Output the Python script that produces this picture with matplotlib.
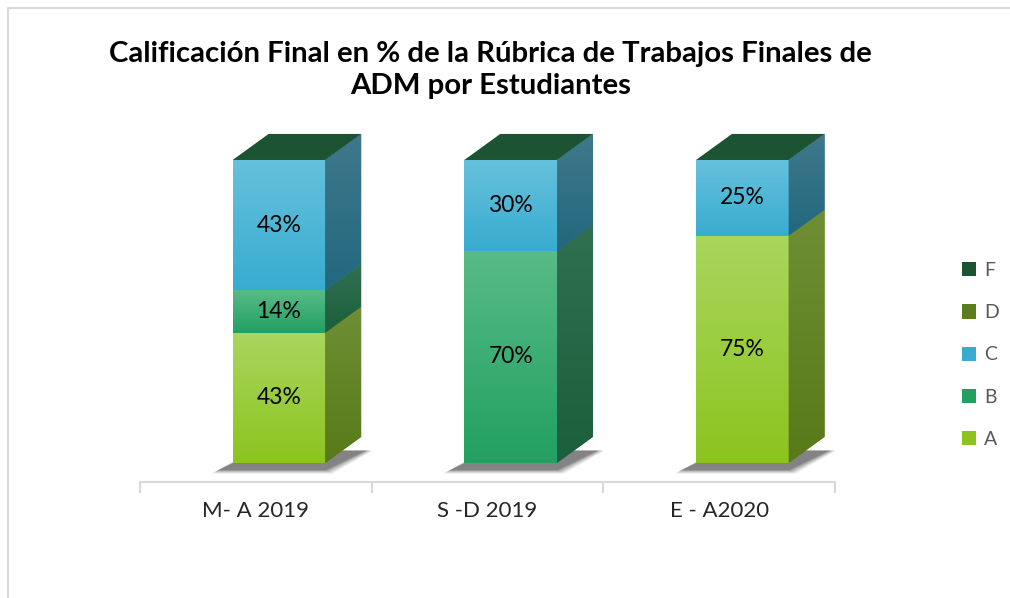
import matplotlib.pyplot as plt
import matplotlib.colors as mcolors
from matplotlib.patches import Polygon, Rectangle
import numpy as np

plt.rcParams['font.family'] = ['Lato', 'DejaVu Sans']

# data
periods = ['M- A 2019', 'S -D 2019', 'E - A2020']
grades = ['A', 'B', 'C', 'D', 'F']
vals_A = [43, 0, 75]
vals_B = [14, 70, 0]
vals_C = [43, 30, 25]
vals_D = [0, 0, 0]
vals_F = [0, 0, 0]

# front colours (top, bottom) and side colours (top, bottom)
front = {'A': ('#a9d65e', '#8cc41f'), 'B': ('#58bb88', '#22a062'),
         'C': ('#66c1dc', '#38acd0'), 'D': ('#6e8e2e', '#5b7d1b'),
         'F': ('#2e6b4a', '#1b5333')}
side = {'A': ('#6f8f35', '#587a17'), 'B': ('#2f7050', '#1c5f3c'),
        'C': ('#40788c', '#22687e'), 'D': ('#4f6a1a', '#3f5a10'),
        'F': ('#184a2c', '#143f25')}
top_col = '#1b5333'

fig = plt.figure(figsize=(10.1, 5.98), dpi=100)
fig.patches.append(Rectangle((8 / 1010, -0.01), 1.2, 1 - 8 / 598 + 0.01, transform=fig.transFigure,
                             fill=False, edgecolor='#d9d9d9', linewidth=1.5))
ax = fig.add_axes([140 / 1010, 1 - 482 / 598, 695 / 1010, 352 / 598])
ax.set_xlim(-0.5, 2.5)
ax.set_ylim(-6.3, 109.9)

x = np.arange(len(periods)) + 0.1
width = 0.40
dx, dy = 0.155, 8.6


def grad_fill(patch, c_top, c_bot, x0, x1, y0, y1):
    cmap = mcolors.LinearSegmentedColormap.from_list('g', [c_bot, c_top])
    g = np.linspace(0, 1, 100).reshape(-1, 1)
    im = ax.imshow(g, cmap=cmap, extent=[x0, x1, y0, y1], origin='lower',
                   aspect='auto', zorder=patch.get_zorder(), interpolation='bilinear')
    im.set_clip_path(patch)


# shadows under the bars
for xi in x:
    x0, x1 = xi - width / 2, xi + width / 2
    for k, a in enumerate([0.1, 0.12, 0.15, 0.2, 0.25]):
        e = 0.03 - k * 0.007
        ax.add_patch(Polygon([(x0 - 0.06 - e, -2.3 - e * 40), (x1 + 0.0 + e, -2.3 - e * 40),
                              (x1 + dx + 0.02 + e, dy - 4.5), (x0 + dx - 0.04 - e, dy - 4.5)],
                             closed=True, facecolor='#333333', edgecolor='none', alpha=a, zorder=1))

series = {'A': vals_A, 'B': vals_B, 'C': vals_C, 'D': vals_D, 'F': vals_F}
bottom = np.zeros(len(periods))
for g in grades:
    v = np.array(series[g], dtype=float)
    bars = ax.bar(x, v, width, bottom=bottom, color=front[g][1], edgecolor='none',
                  zorder=3, label=g)
    for b, val, bt in zip(bars, v, bottom):
        if val <= 0:
            continue
        x0, x1 = b.get_x(), b.get_x() + b.get_width()
        y0, y1 = bt, bt + val
        grad_fill(b, front[g][0], front[g][1], x0, x1, y0, y1)
        sp = Polygon([(x1, y0), (x1 + dx, y0 + dy), (x1 + dx, y1 + dy), (x1, y1)],
                     closed=True, facecolor=side[g][1], edgecolor='none', zorder=3)
        ax.add_patch(sp)
        grad_fill(sp, side[g][0], side[g][1], x1, x1 + dx, y0, y1 + dy)
        ax.text((x0 + x1) / 2, (y0 + y1) / 2, f'{int(val)}%', ha='center', va='center',
                fontsize=16.5, color='black', zorder=5)
    bottom = bottom + v

# top faces
for xi, tot in zip(x, bottom):
    x0, x1 = xi - width / 2, xi + width / 2
    ax.add_patch(Polygon([(x0, tot), (x0 + dx, tot + dy), (x1 + dx, tot + dy), (x1, tot)],
                         closed=True, facecolor=top_col, edgecolor='none', zorder=4))

for s in ['top', 'right', 'left']:
    ax.spines[s].set_visible(False)
ax.spines['bottom'].set_color('#d9d9d9')
ax.spines['bottom'].set_linewidth(1.5)
ax.set_yticks([])
ax.set_xticks(np.arange(len(periods)))
ax.set_xticklabels(periods, fontsize=16, color='#262626')
ax.tick_params(axis='x', which='major', length=0, pad=14)
ax.set_xticks([-0.5, 0.5, 1.5, 2.5], minor=True)
ax.tick_params(axis='x', which='minor', length=8, width=1.5, color='#d9d9d9')
ax.patch.set_alpha(0)

fig.text(0.486, 1 - 70 / 598, 'Calificación Final en % de la Rúbrica de Trabajos Finales de\nADM por Estudiantes',
         ha='center', va='center', fontsize=21.2, fontweight='bold', linespacing=1.3)

order = ['F', 'D', 'C', 'B', 'A']
leg_handles = [Rectangle((0, 0), 1, 1, facecolor=front[g][1], edgecolor='none') for g in order]
fig.legend(leg_handles, order, loc='center left', bbox_to_anchor=(944 / 1010, 1 - 355 / 598),
           frameon=False, fontsize=14, labelcolor='#595959', handlelength=0.75, handleheight=0.75,
           handletextpad=0.4, labelspacing=1.3)

fig.savefig('out.png', dpi=100)
